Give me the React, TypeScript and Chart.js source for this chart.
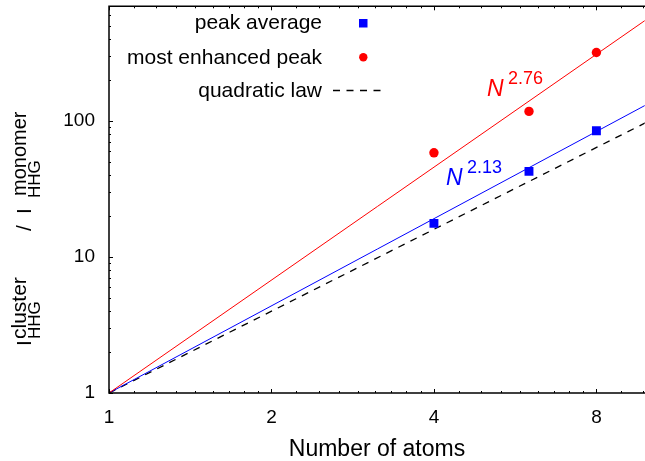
import React, { useEffect, useRef } from "react";
import { Chart, registerables } from "chart.js";

Chart.register(...registerables);

// ---- data ----
const atoms = [4, 6, 8];
const peakAverage = [17.7, 42.7, 84.9];
const mostEnhancedPeak = [58.5, 118, 320];
const fitX = [1, 10];
const fitEnhanced = [1, 575]; // N^2.76
const fitAverage = [1, 135]; // N^2.13
const quadraticLaw = [1, 100]; // N^2
const xTicks = [1, 2, 4, 8];
const yTicks = [1, 10, 100];
const xMin = 1;
const xMax = 9.83;
const yMin = 1;
const yMax = 700;

const FONT = "'Liberation Sans', Arial, Helvetica, sans-serif";
const RED = "rgb(255,0,0)";
const BLUE = "rgb(0,0,255)";

const toXY = (xs: number[], ys: number[]) => xs.map((x, i) => ({ x, y: ys[i] }));

const decorPlugin = {
  id: "decor",
  afterDatasetsDraw(chart: any) {
    const { ctx, chartArea: a, scales } = chart;
    const xs = scales.x;
    const ys = scales.y;
    ctx.save();
    ctx.strokeStyle = "#000";
    ctx.lineWidth = 1;
    const xMinor: number[] = [];
    for (let k = 0; k < 4; k++) {
      const b = Math.pow(2, k);
      for (let j = 1; j < 9; j++) xMinor.push(b * (1 + j / 9));
    }
    const yMinor: number[] = [];
    for (let k = 0; k < 3; k++) {
      const b = Math.pow(10, k);
      for (let j = 2; j < 10; j++) yMinor.push(b * j);
    }
    ctx.beginPath();
    xMinor.forEach((v) => {
      if (v <= xMin || v >= xMax) return;
      const p = Math.round(xs.getPixelForValue(v)) + 0.5;
      ctx.moveTo(p, a.bottom);
      ctx.lineTo(p, a.bottom - 2);
      ctx.moveTo(p, a.top);
      ctx.lineTo(p, a.top + 2);
    });
    xTicks.forEach((v) => {
      const p = Math.round(xs.getPixelForValue(v)) + 0.5;
      ctx.moveTo(p, a.bottom);
      ctx.lineTo(p, a.bottom - 4);
      ctx.moveTo(p, a.top);
      ctx.lineTo(p, a.top + 4);
    });
    yMinor.forEach((v) => {
      if (v <= yMin || v >= yMax) return;
      const p = Math.round(ys.getPixelForValue(v)) + 0.5;
      ctx.moveTo(a.left, p);
      ctx.lineTo(a.left + 2, p);
    });
    yTicks.forEach((v) => {
      const p = Math.round(ys.getPixelForValue(v)) + 0.5;
      ctx.moveTo(a.left, p);
      ctx.lineTo(a.left + 4, p);
    });
    ctx.stroke();
    ctx.lineWidth = 1.5;
    ctx.beginPath();
    ctx.moveTo(a.right + 10, a.top);
    ctx.lineTo(a.left, a.top);
    ctx.lineTo(a.left, a.bottom);
    ctx.lineTo(a.right + 10, a.bottom);
    ctx.stroke();
    ctx.restore();
  },
  afterDraw(chart: any) {
    const { ctx, chartArea: a } = chart;
    ctx.save();
    // legend
    ctx.font = `21px ${FONT}`;
    ctx.fillStyle = "#000";
    ctx.textAlign = "right";
    ctx.textBaseline = "alphabetic";
    ctx.fillText("peak average", 322, 29);
    ctx.fillText("most enhanced peak", 322, 63.5);
    ctx.fillText("quadratic law", 322, 97);
    ctx.fillStyle = BLUE;
    ctx.fillRect(359, 19, 8.5, 8.5);
    ctx.fillStyle = RED;
    ctx.beginPath();
    ctx.arc(363.3, 57.3, 4.2, 0, Math.PI * 2);
    ctx.fill();
    ctx.strokeStyle = "#000";
    ctx.lineWidth = 1.3;
    ctx.setLineDash([7, 6.5]);
    ctx.beginPath();
    ctx.moveTo(333, 90.5);
    ctx.lineTo(386, 90.5);
    ctx.stroke();
    ctx.setLineDash([]);

    // fit annotations
    ctx.textAlign = "left";
    ctx.fillStyle = RED;
    ctx.font = `italic 23px ${FONT}`;
    ctx.fillText("N", 487, 96);
    ctx.font = `18px ${FONT}`;
    ctx.fillText("2.76", 508, 84);
    ctx.fillStyle = BLUE;
    ctx.font = `italic 23px ${FONT}`;
    ctx.fillText("N", 446, 185);
    ctx.font = `18px ${FONT}`;
    ctx.fillText("2.13", 467, 173);

    // x title
    ctx.fillStyle = "#000";
    ctx.textAlign = "center";
    ctx.font = `23px ${FONT}`;
    ctx.fillText("Number of atoms", (a.left + 645) / 2, 456);

    // y title (rotated)
    ctx.rotate(-Math.PI / 2);
    ctx.textAlign = "left";
    const piece = (t: string, yStart: number, xBase: number, size: number) => {
      ctx.font = `${size}px ${FONT}`;
      ctx.fillText(t, -yStart, xBase);
    };
    piece("I", 346, 31, 21);
    piece("HHG", 339, 40, 17);
    piece("cluster", 339, 26, 21);
    piece("/", 231, 31, 21);
    piece("I", 214, 31, 21);
    piece("HHG", 198, 40, 17);
    piece("monomer", 196, 26, 20);
    ctx.restore();
  },
};

export default function App() {
  const ref = useRef<HTMLCanvasElement | null>(null);
  useEffect(() => {
    if (!ref.current) return;
    const chart = new Chart(ref.current, {
      type: "scatter",
      data: {
        datasets: [
          {
            label: "peak average",
            data: toXY(atoms, peakAverage),
            pointStyle: "rect",
            pointRadius: 6.3,
            backgroundColor: BLUE,
            borderColor: BLUE,
            borderWidth: 0,
          },
          {
            label: "most enhanced peak",
            data: toXY(atoms, mostEnhancedPeak),
            pointStyle: "circle",
            pointRadius: 4.7,
            backgroundColor: RED,
            borderColor: RED,
            borderWidth: 0,
          },
          {
            label: "N^2.76",
            data: toXY(fitX, fitEnhanced),
            showLine: true,
            pointRadius: 0,
            borderColor: RED,
            borderWidth: 1,
          },
          {
            label: "N^2.13",
            data: toXY(fitX, fitAverage),
            showLine: true,
            pointRadius: 0,
            borderColor: BLUE,
            borderWidth: 1,
          },
          {
            label: "quadratic law",
            data: toXY(fitX, quadraticLaw),
            showLine: true,
            pointRadius: 0,
            borderColor: "#000",
            borderWidth: 1.3,
            borderDash: [7, 6.5],
          },
        ],
      },
      options: {
        responsive: false,
        animation: false,
        events: [],
        layout: { padding: { top: 5, right: 0, left: 0, bottom: 0 } },
        plugins: { legend: { display: false }, tooltip: { enabled: false } },
        scales: {
          x: {
            type: "logarithmic",
            min: xMin,
            max: xMax,
            afterBuildTicks: (s: any) => {
              s.ticks = xTicks.map((v) => ({ value: v }));
            },
            afterFit: (s: any) => {
              s.height = 68;
              s.paddingLeft = 0;
              s.paddingRight = 0;
            },
            grid: { display: false, drawTicks: false },
            border: { display: false },
            ticks: {
              autoSkip: false,
              maxRotation: 0,
              padding: 13,
              color: "#000",
              font: { size: 19, family: FONT },
              callback: (v: any) => String(v),
            },
          },
          y: {
            type: "logarithmic",
            min: yMin,
            max: yMax,
            afterBuildTicks: (s: any) => {
              s.ticks = yTicks.map((v) => ({ value: v }));
            },
            afterFit: (s: any) => {
              s.width = 109;
              s.paddingTop = 0;
              s.paddingBottom = 0;
            },
            grid: { display: false, drawTicks: false },
            border: { display: false },
            ticks: {
              autoSkip: false,
              padding: 14,
              color: "#000",
              font: { size: 19, family: FONT },
              callback: (v: any) => String(v),
            },
          },
        },
      },
      plugins: [decorPlugin],
    });
    return () => chart.destroy();
  }, []);
  return (
    <div
      style={{
        position: "fixed",
        left: 0,
        top: 0,
        width: 645,
        height: 461,
        overflow: "hidden",
        background: "#fff",
      }}
    >
      <canvas ref={ref} width={651} height={461} style={{ display: "block" }} />
    </div>
  );
}
